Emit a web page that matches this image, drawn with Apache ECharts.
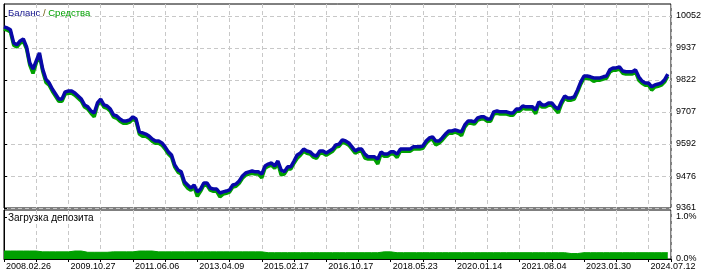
<!DOCTYPE html>
<html>
<head>
<meta charset="utf-8">
<script src="https://cdn.jsdelivr.net/npm/echarts@6/dist/echarts.min.js"></script>
<style>
html,body{margin:0;padding:0;background:#fff;}
#c{width:715px;height:276px;}
</style>
</head>
<body>
<div id="c"></div>
<script>
// ---- data ----
const xLabels = ['2008.02.26','2009.10.27','2011.06.06','2013.04.09','2015.02.17','2016.10.17','2018.05.23','2020.01.14','2021.08.04','2023.01.30','2024.07.12'];
const yTickValues = [9361, 9476, 9592, 9707, 9822, 9937, 10052];
const loadTickValues = [0, 1];
const balance = [
 10013, 10009, 10002, 9955, 9948, 9962, 9969, 9941, 9883, 9861,
 9890, 9919, 9861, 9825, 9811, 9789, 9771, 9753, 9753, 9779,
 9782, 9782, 9775, 9764, 9753, 9732, 9725, 9710, 9703, 9739,
 9753, 9732, 9728, 9717, 9696, 9692, 9681, 9674, 9674, 9678,
 9689, 9681, 9635, 9631, 9627, 9620, 9609, 9602, 9602, 9595,
 9581, 9563, 9552, 9516, 9498, 9491, 9455, 9444, 9433, 9444,
 9419, 9429, 9451, 9451, 9433, 9429, 9429, 9415, 9419, 9422,
 9426, 9444, 9447, 9458, 9476, 9487, 9491, 9494, 9491, 9491,
 9483, 9512, 9519, 9523, 9512, 9530, 9498, 9491, 9509, 9509,
 9530, 9552, 9559, 9573, 9566, 9563, 9552, 9548, 9566, 9566,
 9559, 9566, 9573, 9588, 9591, 9606, 9602, 9595, 9581, 9566,
 9573, 9573, 9555, 9545, 9545, 9545, 9537, 9563, 9555, 9555,
 9563, 9563, 9555, 9573, 9573, 9573, 9573, 9581, 9581, 9581,
 9584, 9602, 9613, 9617, 9602, 9602, 9613, 9627, 9638, 9638,
 9642, 9638, 9635, 9660, 9674, 9674, 9671, 9685, 9689, 9689,
 9681, 9681, 9707, 9710, 9707, 9707, 9707, 9703, 9703, 9717,
 9717, 9728, 9725, 9725, 9725, 9714, 9743, 9732, 9732, 9739,
 9739, 9725, 9717, 9743, 9764, 9757, 9757, 9761, 9786, 9815,
 9836, 9836, 9833, 9829, 9829, 9829, 9833, 9836, 9858, 9865,
 9865, 9869, 9854, 9851, 9851, 9851, 9858, 9833, 9818, 9811,
 9811, 9797, 9804, 9807, 9811, 9822, 9843];
const equity = [
 10005, 10001, 9994, 9947, 9940, 9954, 9961, 9933, 9875, 9845,
 9882, 9911, 9853, 9813, 9803, 9781, 9763, 9745, 9745, 9771,
 9774, 9774, 9767, 9756, 9745, 9724, 9717, 9702, 9689, 9731,
 9745, 9724, 9720, 9709, 9688, 9684, 9673, 9666, 9666, 9670,
 9681, 9673, 9627, 9619, 9619, 9612, 9601, 9594, 9594, 9587,
 9573, 9555, 9544, 9508, 9490, 9483, 9447, 9432, 9425, 9436,
 9403, 9421, 9443, 9443, 9425, 9421, 9421, 9401, 9411, 9414,
 9418, 9436, 9439, 9450, 9468, 9479, 9483, 9486, 9483, 9483,
 9469, 9504, 9511, 9515, 9504, 9522, 9480, 9483, 9501, 9501,
 9522, 9540, 9551, 9565, 9558, 9555, 9544, 9540, 9558, 9558,
 9551, 9558, 9565, 9580, 9583, 9598, 9594, 9587, 9573, 9558,
 9565, 9565, 9541, 9537, 9537, 9537, 9519, 9555, 9547, 9547,
 9555, 9555, 9543, 9565, 9565, 9565, 9565, 9573, 9573, 9573,
 9576, 9594, 9605, 9609, 9588, 9594, 9605, 9619, 9630, 9630,
 9634, 9630, 9621, 9652, 9666, 9666, 9663, 9677, 9681, 9681,
 9673, 9673, 9699, 9702, 9699, 9699, 9699, 9695, 9695, 9709,
 9709, 9720, 9717, 9717, 9717, 9700, 9735, 9724, 9724, 9731,
 9731, 9717, 9703, 9735, 9756, 9749, 9749, 9753, 9778, 9807,
 9828, 9828, 9825, 9817, 9821, 9821, 9825, 9828, 9850, 9857,
 9857, 9861, 9846, 9843, 9843, 9843, 9850, 9821, 9810, 9803,
 9803, 9785, 9796, 9799, 9803, 9814, 9835];
const depositLoad = [0.19, 0.19, 0.19, 0.19, 0.19, 0.17, 0.17, 0.17, 0.17, 0.17,
 0.19, 0.19, 0.16, 0.16, 0.16, 0.16, 0.17, 0.17, 0.17, 0.17,
 0.19, 0.19, 0.19, 0.17, 0.17, 0.17, 0.17, 0.17, 0.17, 0.17,
 0.17, 0.17, 0.17, 0.17, 0.17, 0.17, 0.17, 0.17, 0.17, 0.17,
 0.15, 0.15, 0.15, 0.15, 0.15, 0.15, 0.15, 0.15, 0.15, 0.15,
 0.15, 0.15, 0.15, 0.15, 0.15, 0.15, 0.15, 0.15, 0.17, 0.17,
 0.15, 0.15, 0.15, 0.15, 0.15, 0.15, 0.15, 0.15, 0.15, 0.15,
 0.15, 0.15, 0.15, 0.15, 0.15, 0.15, 0.15, 0.15, 0.15, 0.15,
 0.15, 0.15, 0.15, 0.15, 0.15, 0.15, 0.15, 0.13, 0.13, 0.15,
 0.15, 0.15, 0.15, 0.15, 0.15, 0.15, 0.15, 0.15, 0.15, 0.15,
 0.15, 0.15, 0.15, 0.15];

const FONT = 'Liberation Sans';
const gridLine = {show: true, lineStyle: {color: '#c8c8c8', type: [4, 3], width: 1}};
const xMax = 207;

const chart = echarts.init(document.getElementById('c'), null, {renderer: 'canvas'});
chart.setOption({
  animation: false,
  backgroundColor: '#fff',
  textStyle: {fontFamily: FONT},
  title: [
    {left: 8, top: 8, padding: 0, text: '{a|Баланс} {b|/} {c|Средства}',
     textStyle: {fontWeight: 'normal', fontSize: 9.5, rich: {
       a: {color: '#14148c', fontSize: 9.5, fontWeight: 'normal', fontFamily: FONT},
       b: {color: '#6b5a10', fontSize: 9.5, fontWeight: 'normal', fontFamily: FONT},
       c: {color: '#00a000', fontSize: 9.5, fontWeight: 'normal', fontFamily: FONT}}}},
    {left: 8, top: 213, padding: 0, text: 'Загрузка депозита',
     textStyle: {color: '#000', fontSize: 10, fontWeight: 'normal', fontFamily: FONT}}
  ],
  grid: [
    {left: 4, right: 44, top: 4, height: 204, show: true, borderColor: '#000', borderWidth: 1, backgroundColor: 'transparent'},
    {left: 4, right: 44, top: 210, height: 49, show: true, borderColor: '#000', borderWidth: 1, backgroundColor: 'transparent'}
  ],
  xAxis: [
    {type: 'value', gridIndex: 0, min: 0, max: xMax, interval: 10,
     axisLine: {show: false}, axisTick: {show: false}, axisLabel: {show: false},
     splitLine: gridLine},
    {type: 'value', gridIndex: 1, min: 0, max: xMax, interval: 10,
     axisLine: {show: true, lineStyle: {color: '#000'}},
     axisTick: {show: true, length: 3, lineStyle: {color: '#000'}},
     axisLabel: {show: true, color: '#000', fontSize: 9, fontFamily: FONT, align: 'left', margin: 3,
       padding: [0, 0, 0, 2],
       formatter: v => (Math.abs(v % 20) < 1e-6 ? (xLabels[Math.round(v / 20)] || '') : '')},
     splitLine: gridLine}
  ],
  yAxis: [
    {type: 'value', gridIndex: 0, position: 'right', min: 9361, max: 10095,
     axisLine: {show: true, lineStyle: {color: '#000'}},
     axisTick: {show: true, length: 3, lineStyle: {color: '#000'}, customValues: yTickValues},
     axisLabel: {show: true, color: '#000', fontSize: 9, fontFamily: FONT, margin: 5,
       customValues: yTickValues, formatter: v => String(Math.round(v))},
     splitLine: gridLine},
    {type: 'value', gridIndex: 1, position: 'right', min: 0, max: 1.167,
     axisLine: {show: true, lineStyle: {color: '#000'}},
     axisTick: {show: true, length: 3, lineStyle: {color: '#000'}, customValues: loadTickValues},
     axisLabel: {show: true, color: '#000', fontSize: 9, fontFamily: FONT, margin: 5,
       customValues: loadTickValues, formatter: v => v.toFixed(1) + '%'},
     splitLine: {show: false}}
  ],
  series: [
    {name: 'Средства', type: 'line', xAxisIndex: 0, yAxisIndex: 0, showSymbol: false, symbol: 'none',
     data: equity.map((v, i) => [i, v]), lineStyle: {color: '#00a000', width: 3.5}, z: 2},
    {name: 'Баланс', type: 'line', xAxisIndex: 0, yAxisIndex: 0, showSymbol: false, symbol: 'none',
     data: balance.map((v, i) => [i, v]), lineStyle: {color: '#0808a8', width: 3.5}, z: 3},
    {name: 'Загрузка депозита', type: 'line', xAxisIndex: 1, yAxisIndex: 1, showSymbol: false, symbol: 'none',
     step: 'end', data: depositLoad.map((v, i) => [2 * i, v]),
     lineStyle: {color: '#00a000', width: 1}, areaStyle: {color: '#00a000', opacity: 1}, z: 2}
  ]
});
</script>
</body>
</html>
